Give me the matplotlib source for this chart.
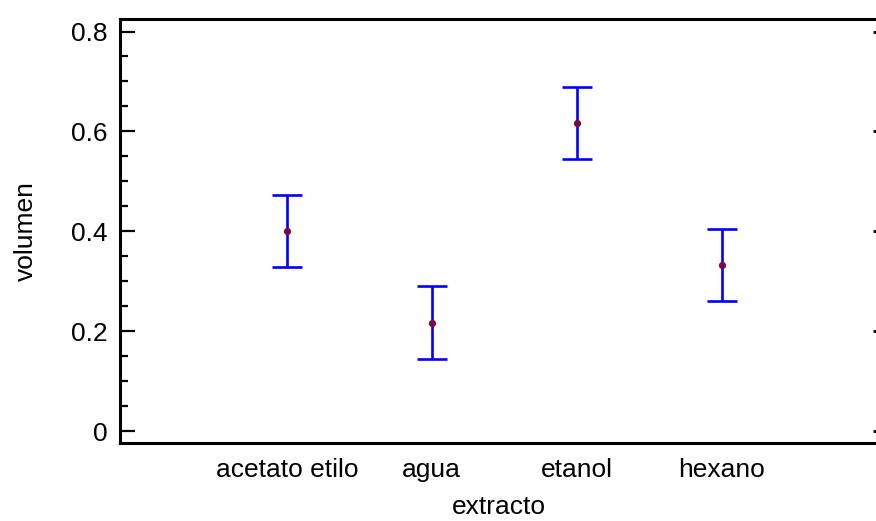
import numpy as np
import matplotlib
matplotlib.use("Agg")
import matplotlib.pyplot as plt
from matplotlib.ticker import MultipleLocator

# mean volumen per extracto, with interval half-width
extractos = ["acetato etilo", "agua", "etanol", "hexano"]
medias = [0.400, 0.217, 0.617, 0.333]
semi_intervalo = [0.0725, 0.0725, 0.0725, 0.0725]

plt.rcParams["font.family"] = ["Liberation Sans", "DejaVu Sans"]

def main():
    fig = plt.figure(figsize=(8.76, 5.21), dpi=100)
    ax = fig.add_axes([0.137, 0.1497, 0.864, 0.8138])

    x = np.arange(1, len(extractos) + 1)
    ax.errorbar(x, medias, yerr=semi_intervalo, fmt="none", ecolor="#0000ff",
                elinewidth=1.9, capsize=11, capthick=1.9, zorder=2)
    ax.plot(x, medias, "o", color="#7a0a40", markersize=4.2, zorder=3)

    ax.set_xlim(-0.15, 5.07)
    ax.set_ylim(-0.024, 0.825)
    ax.set_xticks(x)
    ax.set_xticklabels(extractos)
    ax.set_yticks([0, 0.2, 0.4, 0.6, 0.8])
    ax.set_yticklabels(["0", "0.2", "0.4", "0.6", "0.8"])
    ax.yaxis.set_minor_locator(MultipleLocator(0.05))

    for side in ["left", "top", "bottom"]:
        ax.spines[side].set_linewidth(2.2)
    ax.spines["right"].set_visible(False)

    fs = 19
    ax.tick_params(axis="y", which="major", direction="in", length=11, width=1.6,
                   labelsize=fs, pad=9)
    ax.tick_params(axis="y", which="minor", direction="in", length=6, width=1.6)
    ax.tick_params(axis="x", length=0, labelsize=fs, pad=11)

    ax.set_xlabel("extracto", fontsize=fs, labelpad=9)
    ax.set_ylabel("volumen", fontsize=fs, labelpad=24)

    # short marks on the right edge at the major ticks
    ax2 = ax.twinx()
    ax2.set_ylim(ax.get_ylim())
    ax2.set_yticks([0, 0.2, 0.4, 0.6, 0.8])
    ax2.tick_params(axis="y", direction="in", length=3, width=2, labelright=False)
    for s in ax2.spines.values():
        s.set_visible(False)

    fig.savefig("out.png", dpi=100)

if __name__ == '__main__':
    main()
